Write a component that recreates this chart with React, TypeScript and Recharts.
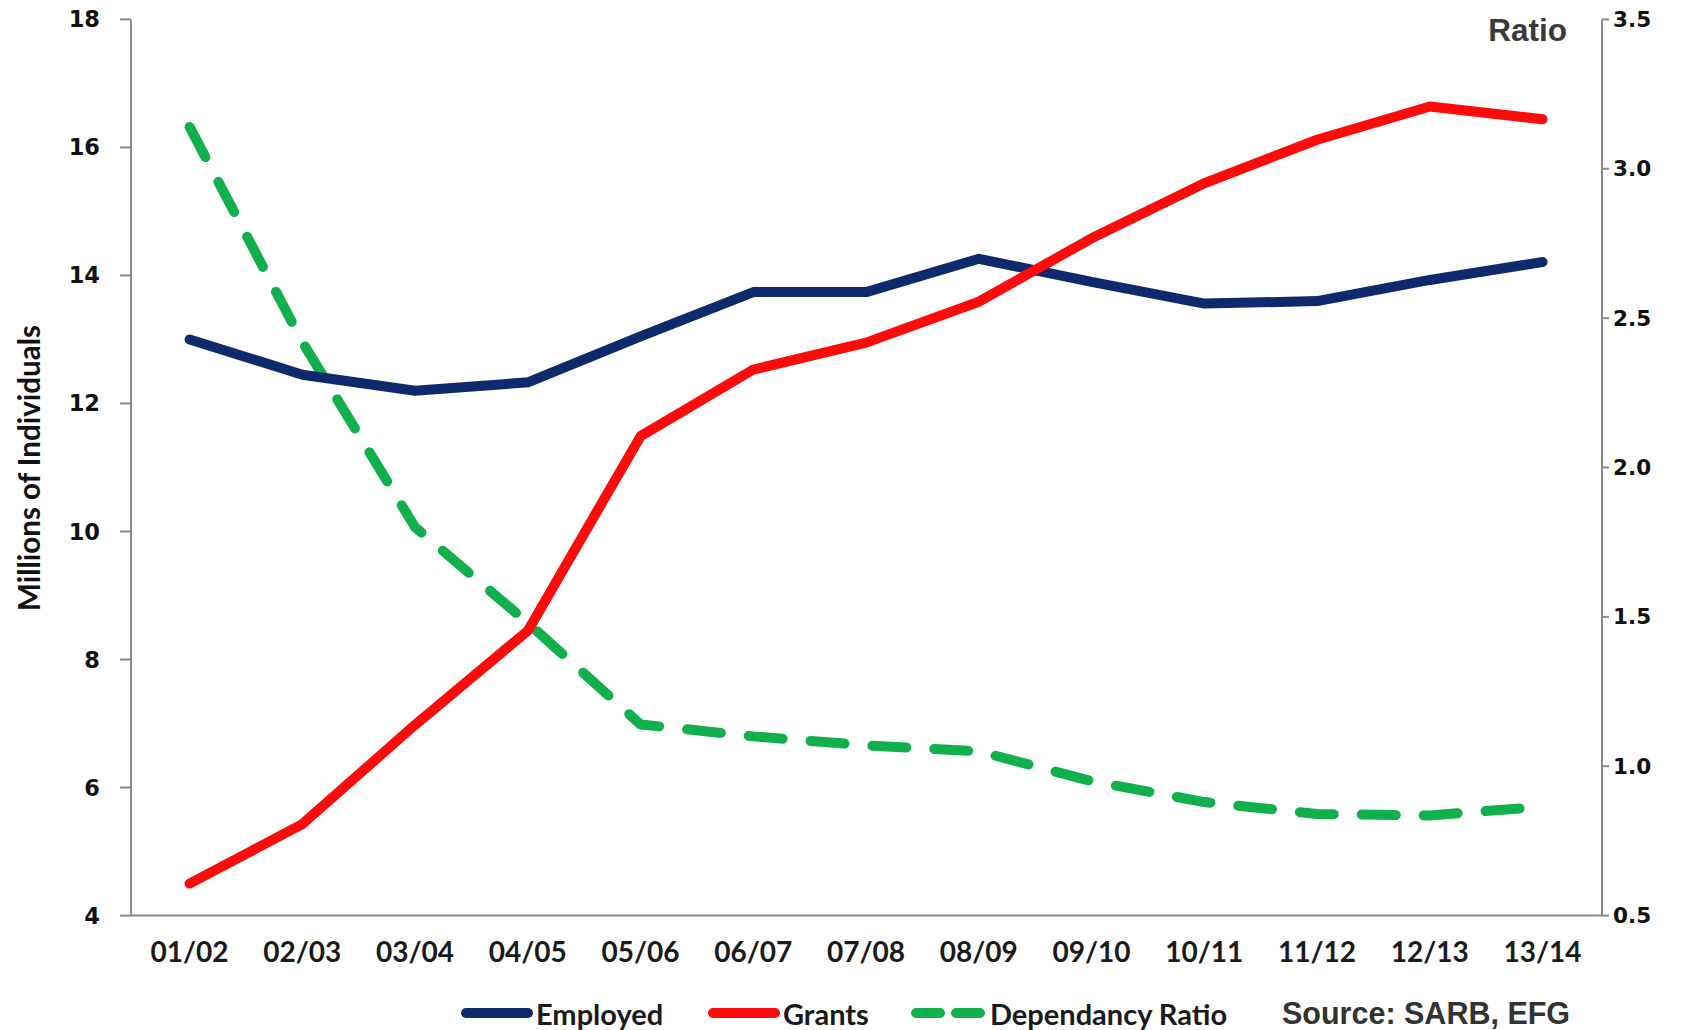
import React from 'react';
import { LineChart, Line, XAxis, YAxis } from 'recharts';

const categories = ['01/02', '02/03', '03/04', '04/05', '05/06', '06/07', '07/08', '08/09', '09/10', '10/11', '11/12', '12/13', '13/14'];
const employed = [13.0, 12.45, 12.2, 12.33, 13.05, 13.74, 13.74, 14.26, 13.9, 13.56, 13.6, 13.93, 14.21];
const grants = [4.5, 5.43, 6.98, 8.45, 11.49, 12.53, 12.95, 13.59, 14.58, 15.44, 16.12, 16.64, 16.44];
const dependancyRatio = [3.14, 2.42, 1.8, 1.48, 1.14, 1.1, 1.07, 1.05, 0.95, 0.88, 0.84, 0.835, 0.865];
const leftTicks = [4, 6, 8, 10, 12, 14, 16, 18];
const rightTicks = [0.5, 1.0, 1.5, 2.0, 2.5, 3.0, 3.5];

const NAVY = '#0E2A6C';
const RED = '#FE0A0A';
const GREEN = '#10B04C';
const AXIS = '#8a8a8a';

const data = categories.map((cat, i) => ({
  cat,
  employed: employed[i],
  grants: grants[i],
  ratio: dependancyRatio[i],
}));

const tickFont = { fontFamily: 'DejaVu Sans', fontWeight: 700, fontSize: 22.5, fill: '#111' };
const labelFont = 'Lato';

export default function App() {
  return (
    <div style={{ position: 'absolute', left: 0, top: 0, width: 1689, height: 1030, background: '#fff' }}>
      <LineChart width={1689} height={1030} data={data} margin={{ top: 19.4, right: 0, bottom: 54.4, left: 0 }}>
        <XAxis
          dataKey="cat"
          height={60}
          padding={{ left: 58.6, right: 59.4 }}
          axisLine={{ stroke: AXIS, strokeWidth: 2 }}
          tickLine={false}
          tickSize={0}
          tickMargin={27}
          interval={0}
          tick={{ fontFamily: labelFont, fontWeight: 700, fontSize: 28, fill: '#1a1a1a' }}
        />
        <YAxis
          yAxisId="left"
          orientation="left"
          width={131}
          domain={[4, 18]}
          ticks={leftTicks}
          interval={0}
          axisLine={{ stroke: AXIS, strokeWidth: 2 }}
          tickLine={{ stroke: AXIS, strokeWidth: 2 }}
          tickSize={11}
          tickMargin={20}
          tick={tickFont}
        />
        <YAxis
          yAxisId="right"
          orientation="right"
          width={87}
          domain={[0.5, 3.5]}
          ticks={rightTicks}
          interval={0}
          axisLine={{ stroke: AXIS, strokeWidth: 2 }}
          tickLine={{ stroke: AXIS, strokeWidth: 2 }}
          tickSize={7}
          tickMargin={4}
          tickFormatter={(v: number) => v.toFixed(1)}
          tick={{ ...tickFont, fontSize: 21.5 }}
        />
        <Line
          yAxisId="right"
          type="linear"
          dataKey="ratio"
          stroke={GREEN}
          strokeWidth={10}
          strokeDasharray="34 28"
          strokeLinecap="round"
          strokeLinejoin="round"
          dot={false}
          activeDot={false}
          isAnimationActive={false}
        />
        <Line
          yAxisId="left"
          type="linear"
          dataKey="employed"
          stroke={NAVY}
          strokeWidth={10}
          strokeLinecap="round"
          strokeLinejoin="round"
          dot={false}
          activeDot={false}
          isAnimationActive={false}
        />
        <Line
          yAxisId="left"
          type="linear"
          dataKey="grants"
          stroke={RED}
          strokeWidth={10}
          strokeLinecap="round"
          strokeLinejoin="round"
          dot={false}
          activeDot={false}
          isAnimationActive={false}
        />
      </LineChart>
      <svg width={1689} height={1030} style={{ position: 'absolute', left: 0, top: 0, pointerEvents: 'none' }}>
        <text
          transform="translate(28,468) rotate(-90)"
          textAnchor="middle"
          dominantBaseline="central"
          fontFamily={labelFont}
          fontWeight={700}
          fontSize={29.5}
          fill="#111"
        >
          Millions of Individuals
        </text>
        <text x={1567} y={41} textAnchor="end" fontFamily="Liberation Sans" fontWeight={700} fontSize={31.5} fill="#3a3a3a">
          Ratio
        </text>
        <g>
          <line x1={466} y1={1013} x2={528} y2={1013} stroke={NAVY} strokeWidth={10} strokeLinecap="round" />
          <text x={536} y={1013} dominantBaseline="central" fontFamily={labelFont} fontWeight={700} fontSize={29} fill="#1a1a1a">
            Employed
          </text>
          <line x1={713} y1={1013} x2={775} y2={1013} stroke={RED} strokeWidth={10} strokeLinecap="round" />
          <text x={783} y={1013} dominantBaseline="central" fontFamily={labelFont} fontWeight={700} fontSize={29} fill="#1a1a1a">
            Grants
          </text>
          <line x1={916} y1={1013} x2={984} y2={1013} stroke={GREEN} strokeWidth={10} strokeLinecap="round" strokeDasharray="24 16" />
          <text x={990} y={1013} dominantBaseline="central" fontFamily={labelFont} fontWeight={700} fontSize={29} fill="#1a1a1a">
            Dependancy Ratio
          </text>
          <text x={1282} y={1013} dominantBaseline="central" fontFamily="Liberation Sans" fontWeight={700} fontSize={30.5} fill="#333">
            Source: SARB, EFG
          </text>
        </g>
      </svg>
    </div>
  );
}
